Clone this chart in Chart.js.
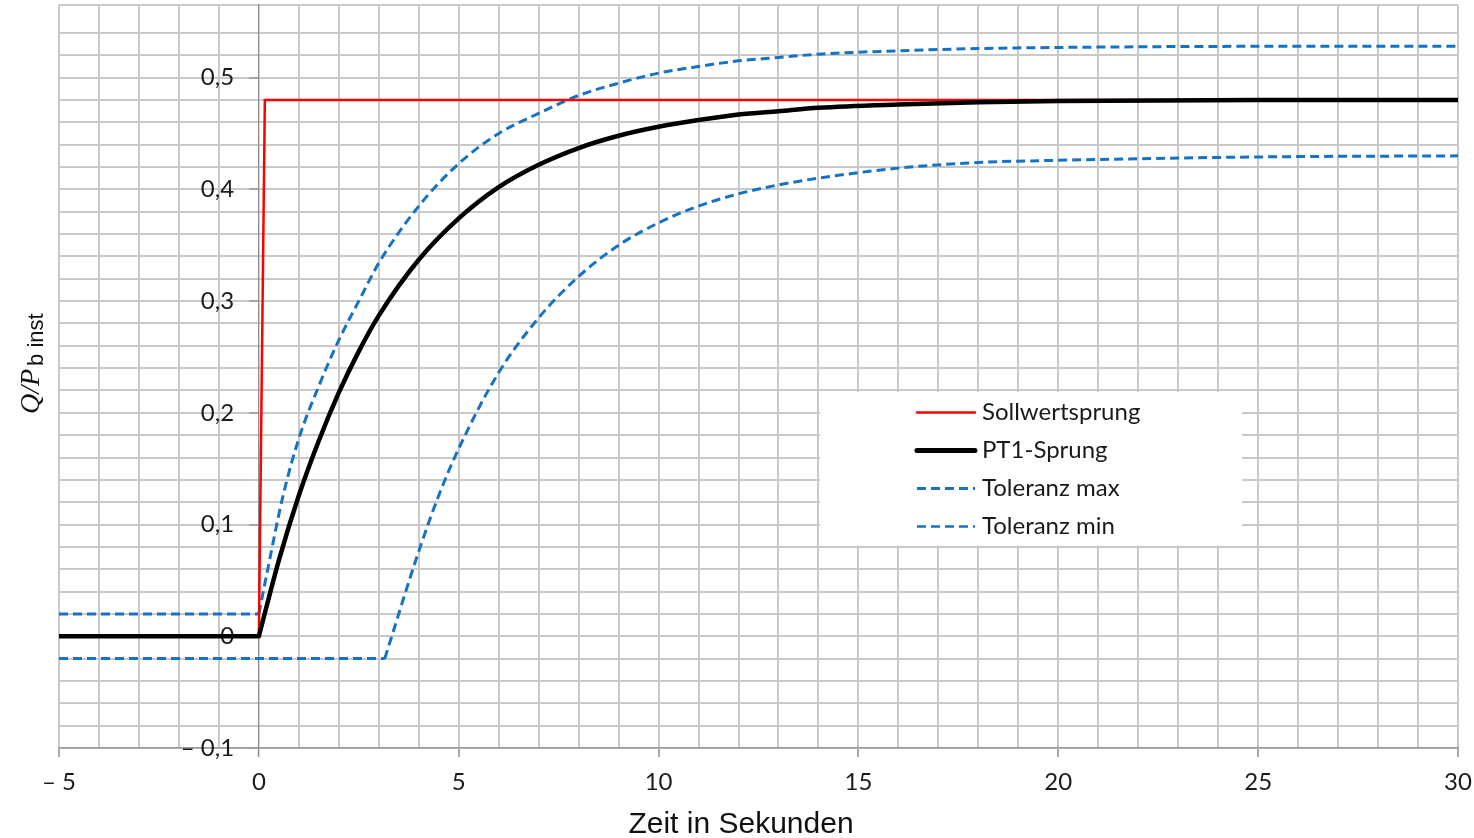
<!DOCTYPE html>
<html lang="de">
<head>
<meta charset="utf-8">
<title>Sollwertsprung und PT1-Sprung</title>
<script src="https://cdn.jsdelivr.net/npm/chart.js@4.4.1/dist/chart.umd.min.js"></script>
<style>
  html, body { margin: 0; padding: 0; background: #fff; }
  #wrap { width: 1474px; height: 838px; }
</style>
</head>
<body>
<div id="wrap"><canvas id="sprungChart" width="1474" height="838"></canvas></div>
<script>
// Werte (Zeit in s, Q/Pb inst)
// null trennt den waagrechten Teil vom Anstieg, damit der Knick scharf bleibt
const sollZeit = [-5, 0, 0.15, 30];
const sollWert = [0, 0, 0.48, 0.48];

const pt1Zeit = [-5, 0, 0, 0, 0.5, 1, 1.5, 2, 2.5, 3, 4, 5, 6, 7, 8, 9, 10, 11, 12, 13, 14, 16, 18, 20, 25, 30];
const pt1Wert = [0, 0, null, 0, 0.068, 0.126, 0.175, 0.218, 0.255, 0.287, 0.337, 0.374, 0.402, 0.422, 0.437, 0.448, 0.456, 0.462, 0.467, 0.470, 0.473, 0.476, 0.478, 0.479, 0.480, 0.480];

const maxZeit = [-5, 0, 0, 0, 0.2, 0.6, 1, 1.5, 2, 2.5, 3, 4, 5, 6, 7, 8, 9, 10, 11, 12, 13, 14, 16, 18, 20, 25, 30];
const maxWert = [0.02, 0.02, null, 0.02, 0.056, 0.125, 0.177, 0.224, 0.265, 0.300, 0.334, 0.385, 0.423, 0.450, 0.468, 0.484, 0.495, 0.504, 0.510, 0.515, 0.518, 0.521, 0.524, 0.526, 0.527, 0.528, 0.528];

const minZeit = [-5, 3.15, 3.15, 3.15, 4, 4.5, 5, 6, 7, 8, 9, 10, 11, 12, 13, 14, 16, 18, 20, 25, 30];
const minWert = [-0.02, -0.02, null, -0.02, 0.076, 0.126, 0.168, 0.236, 0.285, 0.322, 0.350, 0.370, 0.385, 0.396, 0.404, 0.410, 0.419, 0.424, 0.426, 0.429, 0.430];

// Beschriftungen der Achsen
const xTickLabels = ['\u2013 5', '0', '5', '10', '15', '20', '25', '30'];   // -5 .. 30 in 5er Schritten
const yTickLabels = ['\u2013 0,1', '0', '0,1', '0,2', '0,3', '0,4', '0,5']; // -0,1 .. 0,5
const xTitel = 'Zeit in Sekunden';

const toPoints = (xs, ys) => xs.map((x, i) => ({ x: x, y: ys[i] }));

const gridGrau = '#c9c9c9';
const achsenGrau = '#8c8c8c';
const blau = '#1673c4';

function yLabel(v) {
    const k = (v + 0.1) * 10;
    const i = Math.round(k);
    if (Math.abs(k - i) > 1e-6 || yTickLabels[i] === undefined) return null;
    return yTickLabels[i];
}

// keine Zusatzabstaende durch Beschriftungen, Diagrammflaeche wird ueber layout.padding gesetzt
function ohnePadding(scale) {
    scale.paddingTop = 0;
    scale.paddingBottom = 0;
    scale.paddingLeft = 0;
    scale.paddingRight = 0;
}

// Legende im Diagramm (weisses Feld, wie in der Vorlage)
const legendePlugin = {
    id: 'legende',
    afterDraw(chart) {
        const c = chart.ctx;
        const xs = chart.scales.x, ys = chart.scales.y;
        const left = xs.getPixelForValue(14) + 1.5;
        const right = xs.getPixelForValue(24.6);
        const top = ys.getPixelForValue(0.22) + 1.5;
        const bottom = ys.getPixelForValue(0.08) - 1.5;
        c.save();
        c.fillStyle = '#ffffff';
        c.fillRect(left, top, right - left, bottom - top);
        c.font = '24px Lato';
        c.textBaseline = 'middle';
        chart.data.datasets.forEach((ds, i) => {
            const y = top + 20.5 + i * 38;
            c.beginPath();
            c.strokeStyle = ds.borderColor;
            c.lineWidth = ds.legendWidth || ds.borderWidth;
            c.setLineDash(ds.borderDash || []);
            c.lineCap = ds.borderDash ? 'butt' : 'round';
            c.moveTo(left + 97, y);
            c.lineTo(left + 155, y);
            c.stroke();
            c.setLineDash([]);
            c.fillStyle = '#1a1a1a';
            c.fillText(ds.label, left + 162, y);
        });
        c.restore();
    }
};

// Achsentitel: Q/P mit Index "b inst" und Zeit in Sekunden
const titelPlugin = {
    id: 'titel',
    afterDraw(chart) {
        const c = chart.ctx;
        c.save();
        c.fillStyle = '#111';
        c.textBaseline = 'alphabetic';
        c.font = '30px "Liberation Sans"';
        c.textAlign = 'center';
        c.fillText(xTitel, 741, 833);

        c.translate(39, 414);
        c.rotate(-Math.PI / 2);
        c.textAlign = 'left';
        c.font = 'italic 28px "Liberation Serif"';
        c.fillText('Q/P', 0, 0);
        const w = c.measureText('Q/P').width;
        c.font = '22px "Liberation Sans"';
        c.fillText('b inst', w + 3, 4);
        c.restore();
    }
};

const ctx = document.getElementById('sprungChart').getContext('2d');

new Chart(ctx, {
    type: 'line',
    data: {
        datasets: [
            {
                label: 'Sollwertsprung',
                data: toPoints(sollZeit, sollWert),
                borderColor: '#ff0000',
                borderWidth: 2.5,
                tension: 0,
                order: 1
            },
            {
                label: 'PT1-Sprung',
                data: toPoints(pt1Zeit, pt1Wert),
                borderColor: '#000000',
                borderWidth: 4.5,
                borderCapStyle: 'round',
                borderJoinStyle: 'round',
                legendWidth: 5,
                cubicInterpolationMode: 'monotone',
                order: 0
            },
            {
                label: 'Toleranz max',
                data: toPoints(maxZeit, maxWert),
                borderColor: blau,
                borderWidth: 3,
                borderDash: [9, 5],
                cubicInterpolationMode: 'monotone',
                order: 2
            },
            {
                label: 'Toleranz min',
                data: toPoints(minZeit, minWert),
                borderColor: blau,
                borderWidth: 3,
                legendWidth: 2.5,
                borderDash: [9, 5],
                cubicInterpolationMode: 'monotone',
                order: 3
            }
        ]
    },
    options: {
        responsive: false,
        animation: false,
        devicePixelRatio: 1,
        spanGaps: false,
        layout: { padding: { left: 59, right: 16, top: 5, bottom: 0 } },
        elements: { point: { radius: 0, hoverRadius: 0 } },
        plugins: {
            legend: { display: false },
            tooltip: { enabled: false }
        },
        scales: {
            x: {
                type: 'linear',
                min: -5,
                max: 30,
                afterFit: (scale) => { ohnePadding(scale); scale.height = 90; },
                ticks: {
                    stepSize: 1,
                    autoSkip: false,
                    maxRotation: 0,
                    padding: 11,
                    color: '#1a1a1a',
                    font: { family: 'Lato', size: 24 },
                    callback: (v) => {
                        const i = (v + 5) / 5;
                        return Number.isInteger(i) ? xTickLabels[i] : '';
                    }
                },
                grid: {
                    color: (c) => (c.tick && c.tick.value === 0 ? achsenGrau : gridGrau),
                    lineWidth: (c) => (c.tick && c.tick.value === 0 ? 1.2 : 2),
                    tickLength: 9,
                    tickColor: (c) => (c.tick && c.tick.value % 5 === 0 ? achsenGrau : 'rgba(0,0,0,0)'),
                    tickWidth: 1.5
                },
                border: { color: '#9a9a9a', width: 1.5 }
            },
            y: {
                type: 'linear',
                position: { x: 0 },
                min: -0.1,
                max: 0.565,
                afterFit: ohnePadding,
                ticks: { stepSize: 0.02, autoSkip: false, display: false },
                grid: {
                    color: gridGrau,
                    lineWidth: 2,
                    tickLength: 9,
                    tickColor: (c) => (c.tick && yLabel(c.tick.value) !== null ? achsenGrau : 'rgba(0,0,0,0)'),
                    tickWidth: 1.2
                },
                border: { color: achsenGrau, width: 1.2 }
            },
            yBeschriftung: {
                type: 'linear',
                position: { x: -0.62 },
                min: -0.1,
                max: 0.565,
                afterFit: ohnePadding,
                ticks: {
                    stepSize: 0.02,
                    autoSkip: false,
                    padding: 0,
                    color: '#1a1a1a',
                    font: { family: 'Lato', size: 24 },
                    callback: (v) => yLabel(v)
                },
                grid: { display: false, drawTicks: false },
                border: { display: false }
            }
        }
    },
    plugins: [legendePlugin, titelPlugin]
});
</script>
</body>
</html>
